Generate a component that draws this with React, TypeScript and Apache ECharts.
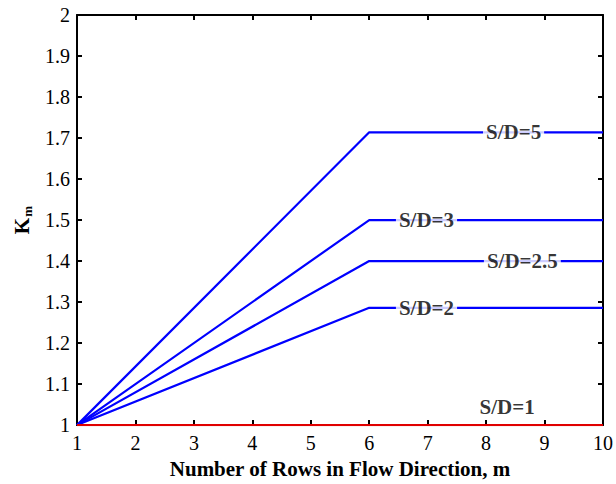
import React, { useEffect, useRef } from "react";
import * as echarts from "echarts";

const xPoints = [1, 6, 10];
const sd5 = [1, 1.714, 1.714];
const sd3 = [1, 1.5, 1.5];
const sd25 = [1, 1.4, 1.4];
const sd2 = [1, 1.286, 1.286];
const sd1 = [1, 1, 1];

const labelNames = ["S/D=5", "S/D=3", "S/D=2.5", "S/D=2", "S/D=1"];
const labelX = [8.47, 6.98, 8.62, 6.98, 8.36];
const labelY = [1.714, 1.5, 1.4, 1.286, 1.045];

const FONT = "'Liberation Serif', 'Times New Roman', serif";

export default function App() {
  const ref = useRef<HTMLDivElement>(null);
  useEffect(() => {
    const chart = echarts.init(ref.current!, null, { renderer: "svg" });
    const mk = (vals: number[]) => xPoints.map((x, i) => [x, vals[i]]);
    const lineSeries = (vals: number[], color: string) => ({
      type: "line",
      data: mk(vals),
      symbol: "none",
      lineStyle: { color, width: 2.2 },
      z: 2,
    });
    const axisCommon = {
      axisLine: { show: true, lineStyle: { color: "#000", width: 2 } },
      axisTick: { show: true, inside: true, length: 5, lineStyle: { color: "#000", width: 2 } },
      splitLine: { show: false },
    };
    chart.setOption({
      animation: false,
      backgroundColor: "#fff",
      textStyle: { fontFamily: FONT },
      grid: { left: 77, right: 11, top: 15, bottom: 51, containLabel: false },
      xAxis: [
        {
          type: "value",
          min: 1,
          max: 10,
          interval: 1,
          position: "bottom",
          ...axisCommon,
          axisLabel: { color: "#000", fontFamily: FONT, fontSize: 20, margin: 8 },
          name: "Number of Rows in Flow Direction, m",
          nameLocation: "middle",
          nameGap: 29,
          nameTextStyle: { color: "#000", fontFamily: FONT, fontSize: 21, fontWeight: "bold" },
        },
        {
          type: "value",
          min: 1,
          max: 10,
          interval: 1,
          position: "top",
          ...axisCommon,
          axisLabel: { show: false },
        },
      ],
      yAxis: [
        {
          type: "value",
          min: 1,
          max: 2,
          interval: 0.1,
          position: "left",
          ...axisCommon,
          axisLabel: {
            color: "#000",
            fontFamily: FONT,
            fontSize: 20,
            margin: 7,
            formatter: (v: number) => String(+v.toFixed(1)),
          },
          name: "{k|K}{m|m}",
          nameLocation: "middle",
          nameRotate: 90,
          nameGap: 43,
          nameTextStyle: {
            rich: {
              k: { fontFamily: FONT, fontSize: 21, fontWeight: "bold", color: "#000" },
              m: { fontFamily: FONT, fontSize: 13, fontWeight: "bold", color: "#000", padding: [12, 0, 0, 1] },
            },
          },
        },
        {
          type: "value",
          min: 1,
          max: 2,
          interval: 0.1,
          position: "right",
          ...axisCommon,
          axisLabel: { show: false },
        },
      ],
      series: [
        lineSeries(sd5, "#0000ff"),
        lineSeries(sd3, "#0000ff"),
        lineSeries(sd25, "#0000ff"),
        lineSeries(sd2, "#0000ff"),
        lineSeries(sd1, "#e00000"),
        {
          type: "scatter",
          symbolSize: 0,
          z: 5,
          data: labelNames.map((n, i) => ({ value: [labelX[i], labelY[i]], name: n })),
          label: {
            show: true,
            position: "inside",
            formatter: (p: any) => p.name,
            fontFamily: FONT,
            fontSize: 21,
            fontWeight: "bold",
            color: "#000",
            backgroundColor: "#fff",
            padding: [1, 3, 1, 3],
          },
        },
      ],
    });
    return () => chart.dispose();
  }, []);
  return (
    <div
      ref={ref}
      style={{ position: "fixed", left: 0, top: 0, width: 616, height: 484 }}
    />
  );
}
